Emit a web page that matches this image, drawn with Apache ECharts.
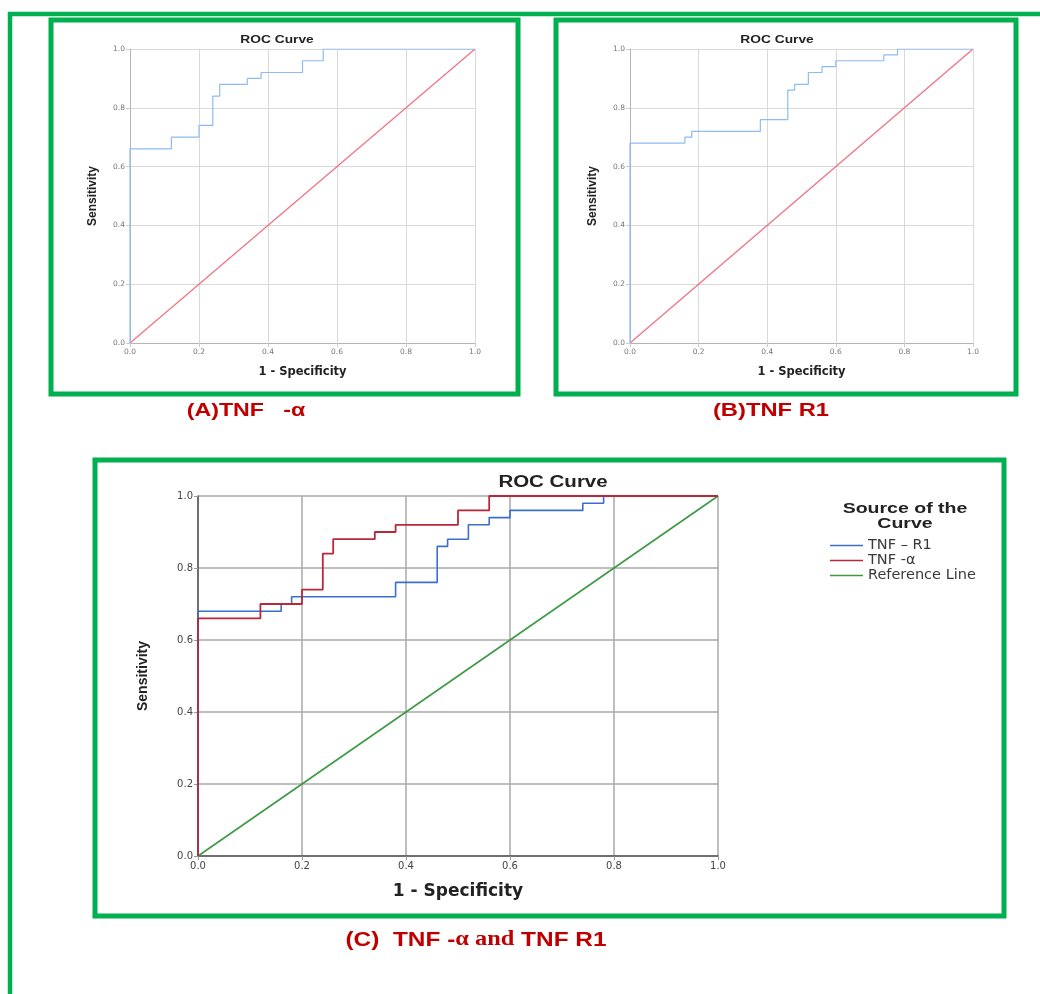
<!DOCTYPE html>
<html>
<head>
<meta charset="utf-8">
<script src="https://cdn.jsdelivr.net/npm/echarts@6/dist/echarts.min.js"></script>
<style>html,body{margin:0;padding:0;background:#fff}#c{width:1040px;height:994px}</style>
</head>
<body>
<div id="c"></div>
<script>
// ROC coordinates (1 - Specificity, Sensitivity)
const tnfAlphaFpr = [0, 0, 0.12, 0.12, 0.20, 0.20, 0.24, 0.24, 0.26, 0.26, 0.34, 0.34, 0.38, 0.38, 0.50, 0.50, 0.56, 0.56, 1.0];
const tnfAlphaTpr = [0, 0.66, 0.66, 0.70, 0.70, 0.74, 0.74, 0.84, 0.84, 0.88, 0.88, 0.90, 0.90, 0.92, 0.92, 0.96, 0.96, 1.0, 1.0];
const tnfR1Fpr = [0, 0, 0.16, 0.16, 0.18, 0.18, 0.38, 0.38, 0.46, 0.46, 0.48, 0.48, 0.52, 0.52, 0.56, 0.56, 0.60, 0.60, 0.74, 0.74, 0.78, 0.78, 1.0];
const tnfR1Tpr = [0, 0.68, 0.68, 0.70, 0.70, 0.72, 0.72, 0.76, 0.76, 0.86, 0.86, 0.88, 0.88, 0.92, 0.92, 0.94, 0.94, 0.96, 0.96, 0.98, 0.98, 1.0, 1.0];
const refFpr = [0, 1];
const refTpr = [0, 1];
const axisTicks = [0, 0.2, 0.4, 0.6, 0.8, 1.0];
const legendNames = ['TNF \u2013 R1', 'TNF -\u03b1', 'Reference Line'];
const panelLabels = ['(A)TNF   -\u03b1', '(B)TNF R1'];

const zip = (xs, ys) => xs.map((x, i) => [x, ys[i]]);
const chart = echarts.init(document.getElementById('c'), null, {renderer: 'canvas'});
const GREEN = '#00b050';
const RED_TXT = '#c00000';

function xAx(gi, big) {
  return {
    type: 'value', gridIndex: gi, min: axisTicks[0], max: axisTicks[axisTicks.length - 1],
    interval: axisTicks[1] - axisTicks[0],
    name: '1 - Specificity', nameLocation: 'middle', nameGap: big ? 27 : 23,
    nameTextStyle: {fontFamily: 'DejaVu Sans', fontWeight: 'bold', fontSize: big ? 17 : 11.5, color: '#222'},
    axisLine: {show: true, lineStyle: {color: big ? '#555' : '#b5b5b5', width: big ? 1.5 : 1}},
    axisTick: {show: true, length: 4, lineStyle: {color: big ? '#999' : '#ccc'}},
    axisLabel: {formatter: v => v.toFixed(1), margin: 5, fontFamily: 'DejaVu Sans', fontSize: big ? 10 : 7.5, color: big ? '#444' : '#777'},
    splitLine: {show: true, lineStyle: {color: big ? '#a8a8a8' : '#d9d9d9', width: big ? 1.5 : 1}}
  };
}
function yAx(gi, big) {
  return {
    type: 'value', gridIndex: gi, min: axisTicks[0], max: axisTicks[axisTicks.length - 1],
    interval: axisTicks[1] - axisTicks[0],
    name: 'Sensitivity', nameLocation: 'middle', nameRotate: 90, nameGap: big ? 48 : 31,
    nameTextStyle: {fontFamily: 'Liberation Sans', fontWeight: 'bold', fontSize: big ? 14 : 12, color: '#222'},
    axisLine: {show: true, lineStyle: {color: big ? '#555' : '#b5b5b5', width: big ? 1.5 : 1}},
    axisTick: {show: true, length: 4, lineStyle: {color: big ? '#999' : '#ccc'}},
    axisLabel: {formatter: v => v.toFixed(1), margin: 5, fontFamily: 'DejaVu Sans', fontSize: big ? 10 : 7.5, color: big ? '#444' : '#777'},
    splitLine: {show: true, lineStyle: {color: big ? '#a8a8a8' : '#d9d9d9', width: big ? 1.5 : 1}}
  };
}
function line(name, gi, xs, ys, color, width, z) {
  return {
    type: 'line', name: name, xAxisIndex: gi, yAxisIndex: gi, data: zip(xs, ys),
    symbol: 'none', showSymbol: false, animation: false, z: z || 2,
    lineStyle: {color: color, width: width}, itemStyle: {color: color}
  };
}
function txt(x, y, text, size, color, scaleX, opts) {
  return Object.assign({
    type: 'text', x: x, y: y, scaleX: scaleX || 1, z: 100,
    style: {text: text, fontFamily: 'Liberation Sans', fontWeight: 'bold', fontSize: size, fill: color,
      textAlign: 'center', textVerticalAlign: 'middle'}
  }, opts || {});
}

const option = {
  animation: false,
  backgroundColor: '#fff',
  grid: [
    {left: 130, top: 49, width: 345, height: 294},
    {left: 630, top: 49, width: 343, height: 294},
    {left: 198, top: 496, width: 520, height: 360}
  ],
  xAxis: [xAx(0, false), xAx(1, false), xAx(2, true)],
  yAxis: [yAx(0, false), yAx(1, false), yAx(2, true)],
  legend: {
    orient: 'vertical', left: 830, top: 538, padding: 0, icon: 'rect',
    itemWidth: 33, itemHeight: 1.6, itemGap: 0,
    data: legendNames, selectedMode: false,
    textStyle: {fontFamily: 'DejaVu Sans', fontSize: 14.5, lineHeight: 15, color: '#3a3a3a'}
  },
  series: [
    line('A TNF-alpha', 0, tnfAlphaFpr, tnfAlphaTpr, '#8cbcf2', 1.2, 3),
    line('A Ref', 0, refFpr, refTpr, '#f07080', 1.2, 2),
    line('B TNF-R1', 1, tnfR1Fpr, tnfR1Tpr, '#8cbcf2', 1.2, 3),
    line('B Ref', 1, refFpr, refTpr, '#f07080', 1.2, 2),
    line(legendNames[0], 2, tnfR1Fpr, tnfR1Tpr, '#3a6fd0', 1.6, 3),
    line(legendNames[1], 2, tnfAlphaFpr, tnfAlphaTpr, '#b82838', 1.8, 4),
    line(legendNames[2], 2, refFpr, refTpr, '#3c9a44', 1.6, 2)
  ],
  graphic: [
    {type: 'polyline', z: 90, shape: {points: [[10, 994], [10, 14], [1040, 14]]}, style: {stroke: GREEN, lineWidth: 4.5, fill: null}},
    {type: 'rect', z: 90, shape: {x: 51, y: 20, width: 467, height: 374}, style: {stroke: GREEN, lineWidth: 5, fill: null}},
    {type: 'rect', z: 90, shape: {x: 556, y: 20, width: 460, height: 374}, style: {stroke: GREEN, lineWidth: 5, fill: null}},
    {type: 'rect', z: 90, shape: {x: 95, y: 460, width: 909, height: 456}, style: {stroke: GREEN, lineWidth: 5, fill: null}},
    txt(277, 40, 'ROC Curve', 11, '#222', 1.25),
    txt(777, 40, 'ROC Curve', 11, '#222', 1.25),
    txt(553, 483, 'ROC Curve', 16, '#222', 1.28),
    txt(905, 516, 'Source of the\nCurve', 15, '#222', 1.3, {}),
    txt(246, 411, panelLabels[0], 19, RED_TXT, 1.22),
    txt(771, 411, panelLabels[1], 19, RED_TXT, 1.25),
    {
      type: 'text', x: 476, y: 940, scaleX: 1.22, z: 100,
      style: {
        text: '{a|(C)  TNF -}{b|\u03b1 and}{a| TNF R1}',
        textAlign: 'center', textVerticalAlign: 'middle',
        rich: {
          a: {fontFamily: 'Liberation Sans', fontWeight: 'bold', fontSize: 20, fill: RED_TXT, color: RED_TXT},
          b: {fontFamily: 'Liberation Serif', fontWeight: 'bold', fontSize: 20, fill: RED_TXT, color: RED_TXT}
        }
      }
    }
  ]
};
chart.setOption(option);
</script>
</body>
</html>
